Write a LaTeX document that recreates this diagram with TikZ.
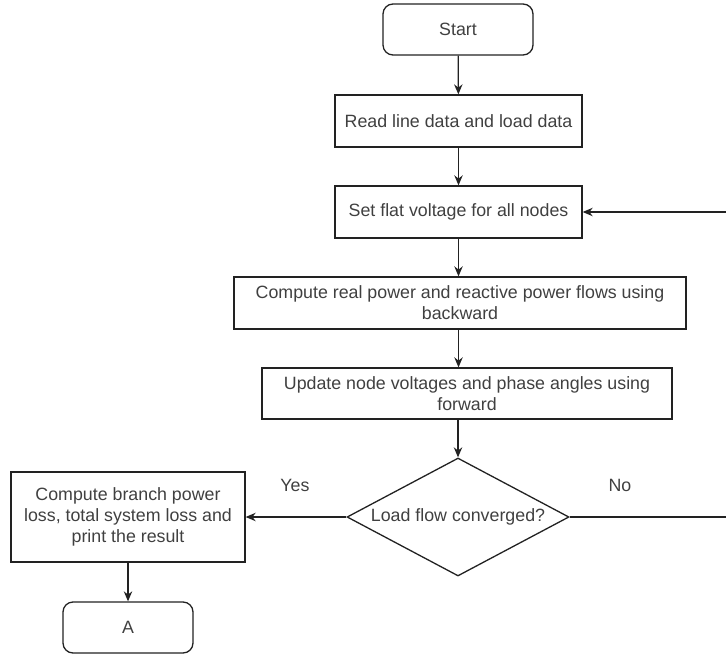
\documentclass[tikz,border=0pt]{standalone}
\usepackage{fontspec}
\setmainfont{Liberation Sans}
\usetikzlibrary{shapes.geometric,arrows.meta}
\definecolor{txt}{HTML}{404040}
\definecolor{ln}{HTML}{222222}
\begin{document}
\begin{tikzpicture}[x=0.5pt,y=-0.5pt,
  font=\fontsize{8.9pt}{10.6pt}\selectfont,
  box/.style={draw=ln,line width=0.65pt,text=txt,align=center,inner sep=0pt},
  term/.style={box,rounded corners=5pt},
  arr/.style={draw=ln,line width=0.65pt,-{Stealth[length=5pt,width=4.2pt]}},
  lbl/.style={text=txt}]
\useasboundingbox (0,0) rectangle (726,657);
\node[term,minimum width=75pt,minimum height=25.5pt] (start) at (458,29.5) {Start};
\node[box,minimum width=123.5pt,minimum height=26pt] (read) at (458.5,121) {Read line data and load data};
\node[box,minimum width=123.5pt,minimum height=26pt] (flat) at (458.5,212) {Set flat voltage for all nodes};
\node[box,minimum width=226pt,minimum height=26pt] (real) at (460,303) {Compute real power and reactive power flows using\\backward};
\node[box,minimum width=205pt,minimum height=25.5pt] (upd) at (467,393.5) {Update node voltages and phase angles using\\forward};
\node[draw=ln,line width=0.65pt,diamond,minimum width=111pt,minimum height=59pt,inner sep=0pt,
  label={[lbl]center:Load flow converged?}] (dia) at (458,517) {};
\node[box,minimum width=117pt,minimum height=45pt] (branch) at (128,517) {Compute branch power\\loss, total system loss and\\print the result};
\node[term,minimum width=65pt,minimum height=25.5pt] (a) at (128,627.5) {A};
\node[lbl] (yes) at (295,485) {Yes};
\node[lbl] (no) at (620,485) {No};
\coordinate (c1) at (734,517);
\coordinate (c2) at (734,212);
\draw[arr] (start) -- (read);
\draw[arr] (read) -- (flat);
\draw[arr] (flat.south) -- (flat.south |- real.north);
\draw[arr] (real.south -| flat.south) -- (flat.south |- upd.north);
\draw[arr] (dia.north |- upd.south) -- (dia.north);
\draw[arr] (dia.west) -- (branch.east);
\draw[arr] (branch) -- (a);
\draw[arr] (dia.east) -- (c1) -- (c2) -- (flat.east);
\end{tikzpicture}
\end{document}
